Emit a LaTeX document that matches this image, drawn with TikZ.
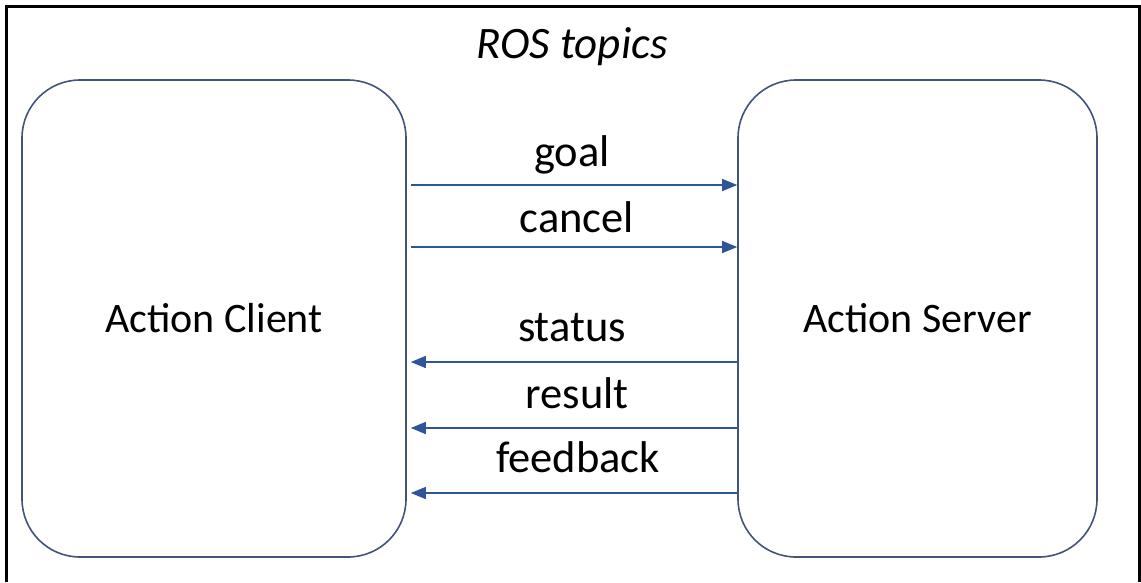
\documentclass[tikz,border=0pt]{standalone}
\usepackage{fontspec}
\setmainfont{Carlito}
\usetikzlibrary{arrows.meta}
\definecolor{boxline}{RGB}{66,84,122}
\definecolor{arrowline}{RGB}{46,85,155}
\begin{document}
\begin{tikzpicture}[x=1pt,y=-1pt,
  endpoint/.style={draw=boxline,line width=1.6pt,rounded corners=58pt,
    inner sep=0pt,font=\fontsize{42}{48}\selectfont},
  topic/.style={draw=arrowline,line width=1.4pt,-{Triangle[length=15pt,width=12pt]}},
  lbl/.style={inner sep=0pt,font=\fontsize{44.5}{50}\selectfont}]
  \useasboundingbox (0,0) rectangle (1141,582);
  % frame: left, top and right sides
  \draw[line width=3pt] (6,582) -- (6,6) -- (1139,6) -- (1139,582);
  \node[lbl,font=\fontsize{45}{50}\selectfont\itshape] (title) at (572,47) {ROS topics};
  \node[endpoint,minimum width=384pt,minimum height=477pt] (client) at (214,318.5) {Action Client};
  \node[endpoint,minimum width=359pt,minimum height=477pt] (server) at (917.5,318.5) {Action Server};
  % client -> server
  \coordinate (g) at (0,185);
  \coordinate (c) at (0,247);
  \draw[topic,shorten <=4pt] (client.east |- g) -- (server.west |- g);
  \draw[topic,shorten <=4pt] (client.east |- c) -- (server.west |- c);
  % server -> client
  \coordinate (s) at (0,362);
  \coordinate (r) at (0,428);
  \coordinate (f) at (0,493);
  \draw[topic,shorten >=4pt] (server.west |- s) -- (client.east |- s);
  \draw[topic,shorten >=4pt] (server.west |- r) -- (client.east |- r);
  \draw[topic,shorten >=4pt] (server.west |- f) -- (client.east |- f);
  \node[lbl] (goal) at (572,155) {goal};
  \node[lbl] (cancel) at (577,217) {cancel};
  \node[lbl] (status) at (572,328) {status};
  \node[lbl] (result) at (577,393) {result};
  \node[lbl] (feedback) at (578,457) {feedback};
\end{tikzpicture}
\end{document}
